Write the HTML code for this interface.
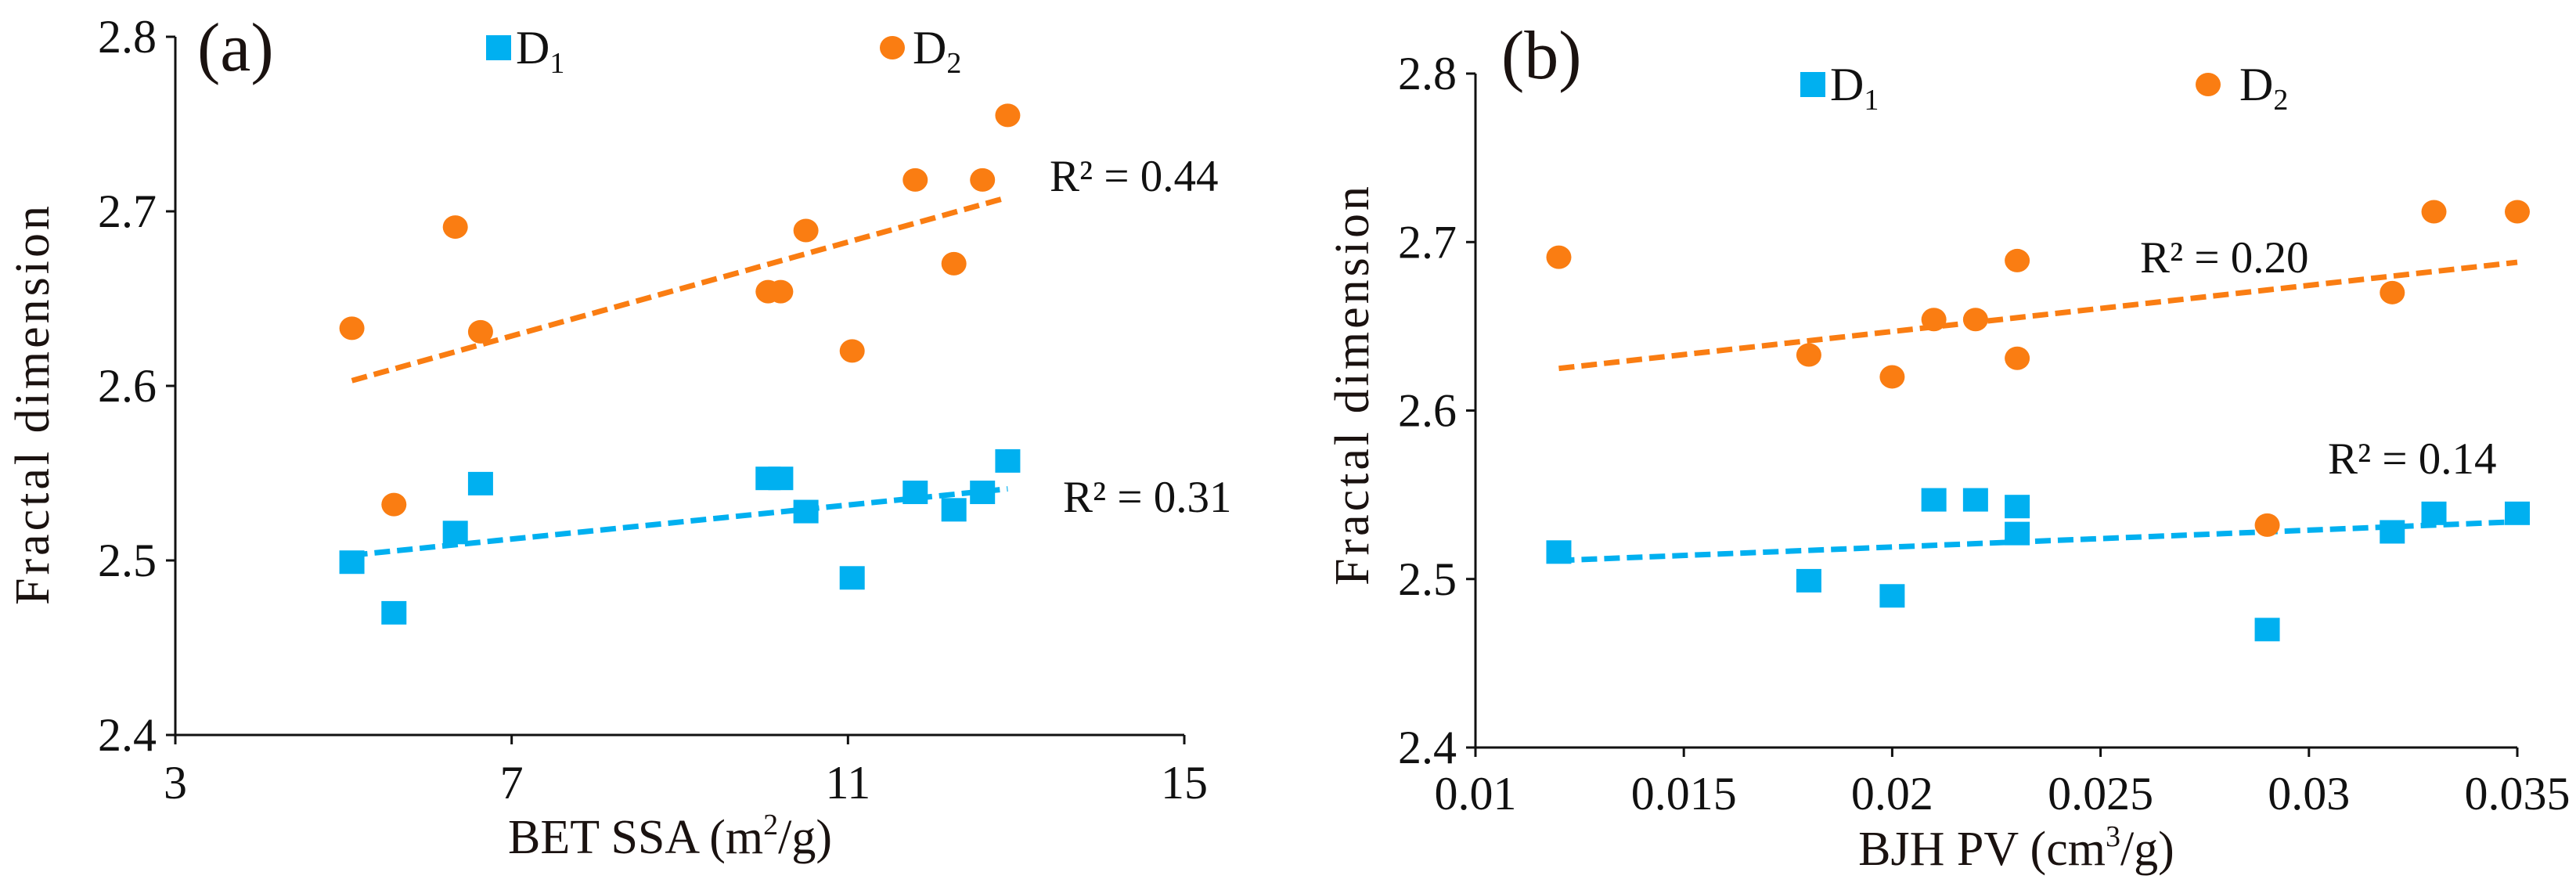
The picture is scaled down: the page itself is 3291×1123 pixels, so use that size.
<!DOCTYPE html>
<html><head><meta charset="utf-8"><style>
html,body{margin:0;padding:0;background:#fff;}
svg{display:block;}
svg text{font-family:"Liberation Serif","DejaVu Serif",serif;}
</style></head><body>
<svg id="chart" width="3291" height="1123" viewBox="0 0 3291 1123" xmlns="http://www.w3.org/2000/svg"></svg>
<script>
// Panel (a): BET SSA
const aX = [5.1, 5.6, 6.33, 6.63, 10.05, 10.2, 10.5, 11.05, 11.8, 12.26, 12.6, 12.9];
const aD1 = [2.499, 2.470, 2.516, 2.544, 2.547, 2.547, 2.528, 2.490, 2.539, 2.529, 2.539, 2.557];
const aD2 = [2.633, 2.532, 2.691, 2.631, 2.654, 2.654, 2.689, 2.620, 2.718, 2.670, 2.718, 2.755];
const aTrendD1 = [2.503, 2.541];
const aTrendD2 = [2.603, 2.708];
const aXTicks = [3, 7, 11, 15];
const aXTickLabels = ["3", "7", "11", "15"];
// Panel (b): BJH PV
const bX = [0.012, 0.018, 0.020, 0.021, 0.022, 0.023, 0.023, 0.029, 0.032, 0.033, 0.035];
const bD1 = [2.516, 2.499, 2.490, 2.547, 2.547, 2.543, 2.527, 2.470, 2.528, 2.539, 2.539];
const bD2 = [2.691, 2.633, 2.620, 2.654, 2.654, 2.689, 2.631, 2.532, 2.670, 2.718, 2.718];
const bTrendD1 = [2.511, 2.534];
const bTrendD2 = [2.625, 2.688];
const bXTicks = [0.01, 0.015, 0.02, 0.025, 0.03, 0.035];
const bXTickLabels = ["0.01", "0.015", "0.02", "0.025", "0.03", "0.035"];
const yTicks = [2.4, 2.5, 2.6, 2.7, 2.8];
const yTickLabels = ["2.4", "2.5", "2.6", "2.7", "2.8"];
const r2a = ["R² = 0.31", "R² = 0.44"];
const r2b = ["R² = 0.14", "R² = 0.20"];

const NS = "http://www.w3.org/2000/svg";
const svg = document.getElementById("chart");
const BLUE = "#00B0F0", ORANGE = "#FA7D12";
const FF = '"Liberation Serif", "DejaVu Serif", serif';
function mk(tag, attrs, parent, text) {
  const e = document.createElementNS(NS, tag);
  for (const k in attrs) e.setAttribute(k, attrs[k]);
  if (tag === "text") e.setAttribute("font-family", FF);
  if (text !== undefined) e.textContent = text;
  (parent || svg).appendChild(e);
  return e;
}
function panel(cfg) {
  const g = mk("g", {});
  
  
  const X = v => cfg.x0 + (v - cfg.xmin) / (cfg.xmax - cfg.xmin) * (cfg.x1 - cfg.x0);
  const Y = v => cfg.y1 - (v - 2.4) / 0.4 * (cfg.y1 - cfg.y0);
  const ax = mk("path", {d:`M${cfg.x0},${cfg.y0} V${cfg.y1} H${cfg.x1}`, stroke:"#111", "stroke-width":3, fill:"none"}, g);
  
  
  yTicks.forEach((t, i) => {
    const y = Y(t);
    const tk = mk("line", {x1:cfg.x0-12, x2:cfg.x0, y1:y, y2:y, stroke:"#111", "stroke-width":3}, g);
    
    
    const lb = mk("text", {x:cfg.x0-24, y:y+20, "font-size":60, "text-anchor":"end", fill:"#111"}, g, yTickLabels[i]);
    
    
  });
  cfg.xticks.forEach((t, i) => {
    const x = X(t);
    const tk = mk("line", {x1:x, x2:x, y1:cfg.y1, y2:cfg.y1+12, stroke:"#111", "stroke-width":3}, g);
    
    
    const lb = mk("text", {x:x, y:cfg.xlabY, "font-size":60, "text-anchor":"middle", fill:"#111"}, g, cfg.xlabels[i]);
    
    
  });
  const xa = Math.min(...cfg.xs), xb = Math.max(...cfg.xs);
  [[cfg.t2, ORANGE, 'trendline-d2'], [cfg.t1, BLUE, 'trendline-d1']].forEach(s => {
    const ln = mk("line", {x1:X(xa), y1:Y(s[0][0]), x2:X(xb), y2:Y(s[0][1]), stroke:s[1], "stroke-width":7, "stroke-dasharray":"20 9"}, g);
    
    
  });
  cfg.xs.forEach((v, i) => {
    const c = mk("ellipse", {cx:X(v), cy:Y(cfg.d2[i]), rx:16, ry:15, fill:ORANGE}, g);
    
    
  });
  cfg.xs.forEach((v, i) => {
    const r = mk("rect", {x:X(v)-16, y:Y(cfg.d1[i])-15, width:32, height:30, fill:BLUE}, g);
    
    
  });
  const pl = mk("text", {x:cfg.plX, y:cfg.plY, "font-size":88, fill:"#1a1210"}, g, cfg.plabel);
  
  
  const yt = mk("text", {transform:`translate(${cfg.ytX},${cfg.ytY}) rotate(-90)`, "font-size":62, "text-anchor":"middle", "letter-spacing":"4", fill:"#1a1210"}, g, "Fractal dimension");
  
  
  const xt = mk("text", {x:cfg.xtX, y:cfg.xtY, "font-size":62, "text-anchor":"middle", fill:"#1a1210"}, g);
  
  
  mk("tspan", {}, xt, cfg.xt[0]);
  mk("tspan", {dy:-24, "font-size":38}, xt, cfg.xt[1]);
  mk("tspan", {dy:24}, xt, cfg.xt[2]);
  const l1 = mk("g", {}, g);
  
  
  mk("rect", {x:cfg.lg1X, y:cfg.lgY-16, width:32, height:32, fill:BLUE}, l1);
  const t1 = mk("text", {x:cfg.lg1X+38, y:cfg.lgY+20, "font-size":60, fill:"#111"}, l1, "D");
  mk("tspan", {dy:12, "font-size":38}, t1, "1");
  const l2 = mk("g", {}, g);
  
  
  mk("ellipse", {cx:cfg.lg2X, cy:cfg.lgY, rx:16, ry:15, fill:ORANGE}, l2);
  const t2 = mk("text", {x:cfg.lg2X+cfg.lg2dx, y:cfg.lgY+20, "font-size":60, fill:"#111"}, l2, "D");
  mk("tspan", {dy:12, "font-size":38}, t2, "2");
  const ra = mk("text", {x:cfg.r1X, y:cfg.r1Y, "font-size":57, fill:"#111"}, g, cfg.r2[0]);
  
  
  const rb = mk("text", {x:cfg.r2X, y:cfg.r2Y, "font-size":57, fill:"#111"}, g, cfg.r2[1]);
  
  
}
panel({name:"panel-a-bet-ssa", xs:aX, d1:aD1, d2:aD2, t1:aTrendD1, t2:aTrendD2, xmin:3, xmax:15, x0:224, x1:1513, y0:47, y1:939,
  xticks:aXTicks, xlabels:aXTickLabels, xlabY:1020, plabel:"(a)", plX:252, plY:90,
  ytX:62, ytY:516, xtX:856, xtY:1090, xt:["BET SSA (m","2","/g)"],
  lg1X:621, lg2X:1140, lg2dx:26, lgY:61, r2:r2a, r1X:1358, r1Y:654, r2X:1341, r2Y:244});
panel({name:"panel-b-bjh-pv", xs:bX, d1:bD1, d2:bD2, t1:bTrendD1, t2:bTrendD2, xmin:0.01, xmax:0.035, x0:1885, x1:3216, y0:94, y1:955,
  xticks:bXTicks, xlabels:bXTickLabels, xlabY:1034, plabel:"(b)", plX:1918, plY:100,
  ytX:1748, ytY:491, xtX:2576, xtY:1105, xt:["BJH PV (cm","3","/g)"],
  lg1X:2300, lg2X:2821, lg2dx:40, lgY:108, r2:r2b, r1X:2974, r1Y:605, r2X:2734, r2Y:348});
</script>
</body></html>
